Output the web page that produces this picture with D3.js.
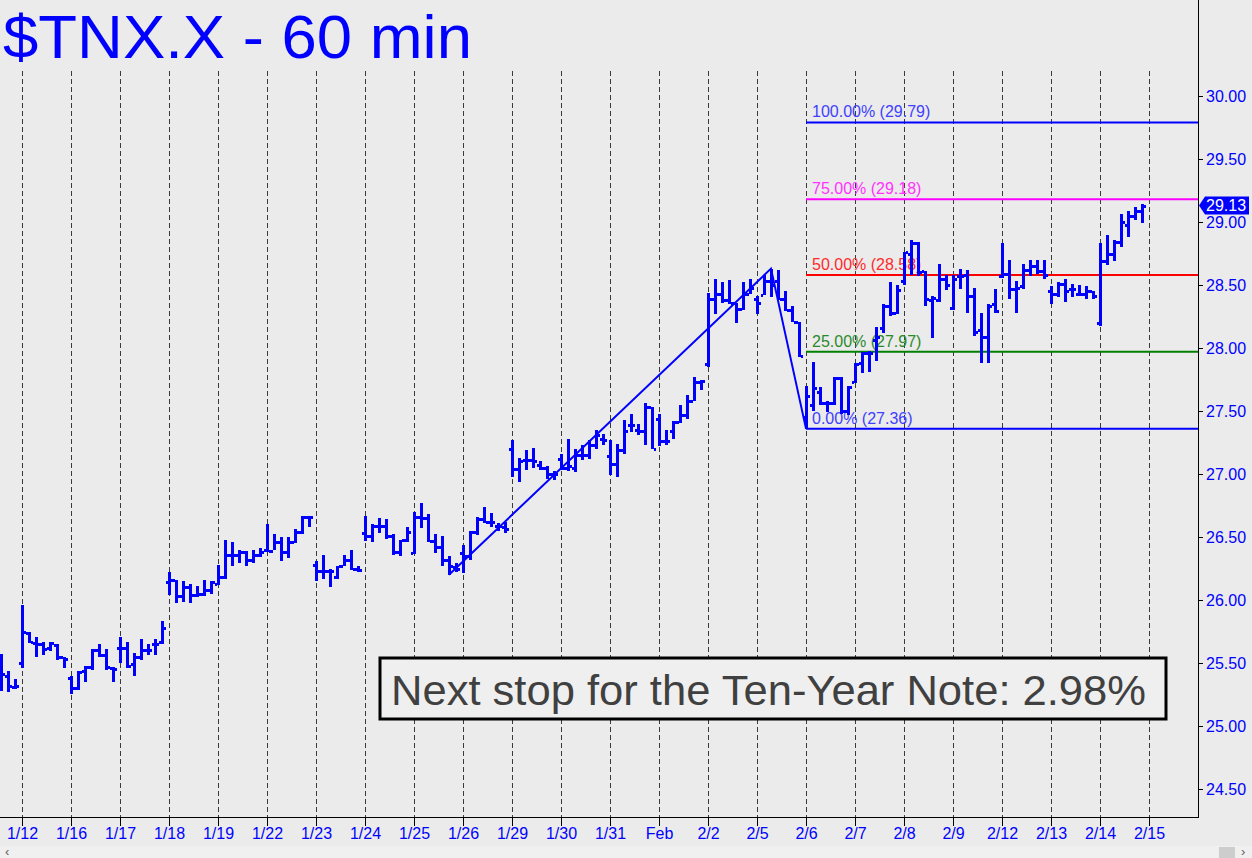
<!DOCTYPE html>
<html>
<head>
<meta charset="utf-8">
<script src="https://cdn.jsdelivr.net/npm/d3@7/dist/d3.min.js"></script>
<style>
html,body{margin:0;padding:0;background:#ebebeb;}
svg{display:block;font-family:"Liberation Sans",Arial,sans-serif;}
</style>
</head>
<body>
<svg id="chart" width="1252" height="858"></svg>
<script>
// ---------- data ----------
const dayLabels = ["1/12","1/16","1/17","1/18","1/19","1/22","1/23","1/24","1/25","1/26","1/29","1/30","1/31","Feb","2/2","2/5","2/6","2/7","2/8","2/9","2/12","2/13","2/14","2/15"];
const dayFirstBar = [3,10,17,24,31,38,45,52,59,66,73,80,87,94,101,108,115,122,129,136,143,150,157,164];

const opens = [25.47,25.40,25.31,
25.50,25.74,25.66,25.65,25.62,25.64,25.55,
25.38,25.30,25.44,25.47,25.60,25.56,25.46,
25.62,25.62,25.49,25.55,25.60,25.65,25.67,
26.14,26.16,26.03,26.10,26.04,26.05,26.08,
26.13,26.18,26.36,26.36,26.38,26.32,26.36,
26.40,26.39,26.46,26.38,26.46,26.54,26.66,
26.28,26.23,26.23,26.18,26.27,26.32,26.25,
26.53,26.51,26.59,26.59,26.51,26.38,26.48,
26.37,26.66,26.65,26.47,26.42,26.32,26.26,
26.37,26.35,26.54,26.64,26.62,26.59,26.58,
27.20,27.04,27.11,27.11,27.07,27.05,27.00,
27.12,27.05,27.05,27.15,27.15,27.23,27.28,
27.14,27.08,27.19,27.39,27.35,27.34,27.53,
27.44,27.26,27.34,27.41,27.47,27.58,27.73,
27.87,28.39,28.43,28.38,28.36,28.31,28.43,
28.39,28.42,28.53,28.53,28.39,28.30,28.21,
27.45,27.55,27.65,27.56,27.56,27.76,27.50,
27.73,27.88,27.96,28.06,28.16,28.33,28.28,
28.53,28.75,28.83,28.61,28.38,28.38,28.55,
28.32,28.57,28.58,28.41,28.14,28.09,28.35,
28.57,28.59,28.47,28.49,28.62,28.65,28.61,
28.45,28.43,28.51,28.47,28.43,28.43,28.45,
28.20,28.69,28.75,28.84,28.98,29.05,29.09];
const highs = [25.57,25.44,25.37,
25.96,25.75,25.71,25.67,25.67,25.65,25.55,
25.40,25.44,25.48,25.61,25.65,25.61,25.47,
25.71,25.67,25.58,25.69,25.65,25.69,25.83,
26.22,26.16,26.15,26.13,26.11,26.16,26.15,
26.28,26.48,26.46,26.40,26.39,26.40,26.41,
26.60,26.52,26.50,26.50,26.56,26.67,26.67,
26.31,26.36,26.25,26.27,26.36,26.40,26.27,
26.67,26.60,26.65,26.64,26.52,26.48,26.58,
26.70,26.77,26.68,26.52,26.51,26.35,26.29,
26.44,26.55,26.66,26.74,26.69,26.61,26.62,
27.27,27.13,27.19,27.21,27.10,27.06,27.02,
27.16,27.28,27.20,27.23,27.27,27.35,27.32,
27.27,27.24,27.43,27.48,27.40,27.56,27.53,
27.48,27.35,27.42,27.55,27.63,27.77,27.75,
28.44,28.55,28.52,28.54,28.36,28.52,28.55,
28.41,28.58,28.63,28.62,28.45,28.33,28.21,
27.70,27.89,27.69,27.58,27.77,27.77,27.70,
27.88,27.97,27.98,28.17,28.35,28.52,28.50,
28.76,28.86,28.84,28.61,28.41,28.67,28.58,
28.58,28.63,28.62,28.48,28.28,28.35,28.47,
28.83,28.70,28.53,28.67,28.70,28.70,28.70,
28.49,28.52,28.55,28.51,28.50,28.49,28.45,
28.83,28.90,28.86,29.06,29.09,29.12,29.14];
const lows = [25.28,25.27,25.29,
25.46,25.66,25.55,25.57,25.60,25.52,25.46,
25.26,25.29,25.35,25.44,25.55,25.44,25.35,
25.50,25.46,25.40,25.52,25.56,25.56,25.65,
26.04,25.98,25.98,25.98,26.02,26.03,26.05,
26.12,26.17,26.27,26.30,26.27,26.30,26.34,
26.38,26.39,26.31,26.33,26.45,26.53,26.58,
26.15,26.17,26.11,26.17,26.27,26.24,26.22,
26.47,26.46,26.53,26.48,26.35,26.35,26.46,
26.37,26.57,26.46,26.37,26.27,26.20,26.22,
26.22,26.32,26.52,26.61,26.58,26.55,26.53,
26.98,26.94,27.03,27.05,27.03,26.96,26.95,
27.03,27.03,27.02,27.11,27.12,27.20,27.23,
26.99,26.98,27.16,27.34,27.31,27.23,27.20,
27.23,27.23,27.28,27.41,27.44,27.58,27.67,
27.85,28.27,28.35,28.35,28.20,28.30,28.43,
28.27,28.42,28.41,28.38,28.29,28.20,27.93,
27.36,27.50,27.55,27.49,27.55,27.48,27.47,
27.72,27.80,27.81,27.90,28.12,28.25,28.27,
28.50,28.58,28.57,28.33,28.08,28.37,28.46,
28.30,28.47,28.28,28.10,27.88,27.88,28.28,
28.55,28.39,28.28,28.47,28.57,28.59,28.55,
28.35,28.40,28.37,28.41,28.41,28.39,28.39,
28.17,28.66,28.69,28.80,28.88,29.02,28.99];
const closes = [25.41,25.32,25.32,
25.75,25.67,25.65,25.61,25.66,25.55,25.53,
25.30,25.43,25.47,25.60,25.56,25.47,25.45,
25.62,25.48,25.55,25.60,25.60,25.65,25.78,
26.16,26.03,26.10,26.04,26.05,26.08,26.14,
26.18,26.36,26.36,26.38,26.32,26.36,26.38,
26.39,26.46,26.38,26.46,26.54,26.66,26.66,
26.23,26.23,26.23,26.27,26.32,26.25,26.24,
26.51,26.59,26.59,26.51,26.38,26.48,26.54,
26.66,26.65,26.47,26.42,26.32,26.27,26.25,
26.35,26.54,26.64,26.62,26.62,26.59,26.56,
27.04,27.10,27.11,27.10,27.05,27.00,27.00,
27.05,27.06,27.15,27.15,27.23,27.31,27.27,
27.08,27.19,27.34,27.39,27.34,27.53,27.20,
27.26,27.26,27.41,27.47,27.58,27.73,27.74,
28.39,28.43,28.38,28.36,28.31,28.43,28.48,
28.36,28.53,28.50,28.39,28.30,28.21,27.94,
27.62,27.68,27.56,27.56,27.76,27.50,27.69,
27.87,27.96,27.96,28.09,28.33,28.28,28.46,
28.76,28.83,28.60,28.39,28.40,28.55,28.50,
28.55,28.57,28.41,28.13,28.09,28.33,28.29,
28.59,28.47,28.48,28.62,28.65,28.61,28.58,
28.43,28.51,28.45,28.47,28.43,28.45,28.41,
28.69,28.75,28.84,29.00,29.05,29.09,29.13];

const yTicks = [24.5,25.0,25.5,26.0,26.5,27.0,27.5,28.0,28.5,29.0,29.5,30.0];
const fibNames = ["0.00%","25.00%","50.00%","75.00%","100.00%"];
const fibValues = [27.36,27.97,28.58,29.18,29.79];
const abcBars = [64,110,115];
const abcValues = [26.20,28.63,27.36];
const lastPrice = 29.13;
const titleText = "$TNX.X - 60 min";
const noteText = "Next stop for the Ten-Year Note: 2.98%";

// ---------- chart ----------
const svg = d3.select("#chart");
const W = 1252, H = 858;
const axisX = 1198, axisY = 817;
const x = d3.scaleLinear().domain([0, 163]).range([1, 1142]);
const y = d3.scaleLinear().domain([24.5, 30]).range([789, 96]);
const blue = "#0000ff";

svg.append("rect").attr("width", W).attr("height", H).attr("fill", "#ebebeb");

// day separators
svg.append("g").selectAll("line").data(dayFirstBar).join("line")
  .attr("x1", d => Math.round(x(d)) + 0.5).attr("x2", d => Math.round(x(d)) + 0.5)
  .attr("y1", 71).attr("y2", axisY)
  .attr("stroke", "#3a3a3a").attr("stroke-width", 1).attr("stroke-dasharray", "5,3");

// fib lines
const fibColors = ["#0000ff","#008000","#ff0000","#ff00ff","#0000ff"];
const fibTextColors = ["#4040ff","#2a8a2a","#ff2a2a","#ff33ff","#4040ff"];
const fg = svg.append("g");
fibValues.forEach((v, i) => {
  fg.append("line").attr("x1", x(abcBars[2])).attr("x2", axisX)
    .attr("y1", y(v)).attr("y2", y(v)).attr("stroke", fibColors[i]).attr("stroke-width", 2);
  fg.append("text").attr("x", x(abcBars[2]) + 6).attr("y", y(v) - 5)
    .attr("fill", fibTextColors[i]).attr("font-size", 16)
    .text(fibNames[i] + " (" + v.toFixed(2) + ")");
});

// ABC line
svg.append("path")
  .attr("d", d3.line().x(d => x(d[0])).y(d => y(d[1]))(abcBars.map((b, i) => [b, abcValues[i]])))
  .attr("fill", "none").attr("stroke", blue).attr("stroke-width", 2);

// OHLC bars
const bars = opens.map((o, i) => ({i, o, h: highs[i], l: lows[i], c: closes[i]}));
const bg = svg.append("g").attr("fill", blue).attr("shape-rendering", "crispEdges");
bars.forEach(b => {
  const cx = Math.round(x(b.i));
  bg.append("rect").attr("x", cx - 1).attr("width", 3)
    .attr("y", Math.round(y(b.h))).attr("height", Math.max(3, Math.round(y(b.l) - y(b.h))));
  bg.append("rect").attr("x", cx - 3).attr("width", 2)
    .attr("y", Math.round(y(b.o)) - 1).attr("height", 3);
  bg.append("rect").attr("x", cx + 2).attr("width", 2)
    .attr("y", Math.round(y(b.c)) - 1).attr("height", 3);
});

// right axis
const ya = svg.append("g").attr("transform", `translate(${axisX},0)`)
  .call(d3.axisRight(y).tickValues(yTicks).tickFormat(d3.format(".2f")).tickSize(5).tickPadding(3));
ya.select(".domain").remove();
ya.selectAll("text").attr("fill", blue).attr("font-size", 16).attr("font-family", "Liberation Sans, Arial, sans-serif");
ya.selectAll("line").attr("stroke", "#000");
svg.append("line").attr("x1", axisX + 0.5).attr("x2", axisX + 0.5).attr("y1", 0).attr("y2", axisY)
  .attr("stroke", "#000").attr("stroke-width", 1);

// bottom axis
const xa = svg.append("g").attr("transform", `translate(0,${axisY})`)
  .call(d3.axisBottom(x).tickValues(dayFirstBar).tickFormat((d, i) => dayLabels[i]).tickSize(9).tickPadding(2));
xa.select(".domain").remove();
xa.selectAll("text").attr("fill", blue).attr("font-size", 16).attr("font-family", "Liberation Sans, Arial, sans-serif");
xa.selectAll("line").attr("stroke", "#000");
svg.append("line").attr("x1", 0).attr("x2", axisX + 1).attr("y1", axisY + 0.5).attr("y2", axisY + 0.5)
  .attr("stroke", "#000").attr("stroke-width", 1);

// scrollbar strip
svg.append("rect").attr("x", 0).attr("y", 846).attr("width", W).attr("height", 12).attr("fill", "#f0f0f0");
svg.append("text").attr("x", 5).attr("y", 856).attr("fill", "#606060").attr("font-size", 13).text("‹");
svg.append("rect").attr("x", 1219).attr("y", 847).attr("width", 16).attr("height", 11).attr("fill", "#cdcdcd");
svg.append("text").attr("x", 1241).attr("y", 856).attr("fill", "#606060").attr("font-size", 13).text("›");

// last price flag
const ly = y(lastPrice);
svg.append("path")
  .attr("d", `M${axisX + 1},${ly} L${axisX + 7},${ly - 9} L1249,${ly - 9} L1249,${ly + 9} L${axisX + 7},${ly + 9} Z`)
  .attr("fill", blue);
svg.append("text").attr("x", axisX + 8).attr("y", ly + 5.5).attr("fill", "#fff").attr("font-size", 16).text(lastPrice.toFixed(2));

// title
svg.append("text").attr("x", 3).attr("y", 58).attr("fill", blue).attr("font-size", 61)
  .attr("textLength", 469).attr("lengthAdjust", "spacingAndGlyphs").text(titleText);

// note box
svg.append("rect").attr("x", 380).attr("y", 658).attr("width", 786).attr("height", 61)
  .attr("fill", "#efefef").attr("stroke", "#000").attr("stroke-width", 3);
svg.append("text").attr("x", 391).attr("y", 705).attr("fill", "#404040").attr("font-size", 43)
  .attr("textLength", 755).attr("lengthAdjust", "spacingAndGlyphs").text(noteText);
</script>
</body>
</html>
